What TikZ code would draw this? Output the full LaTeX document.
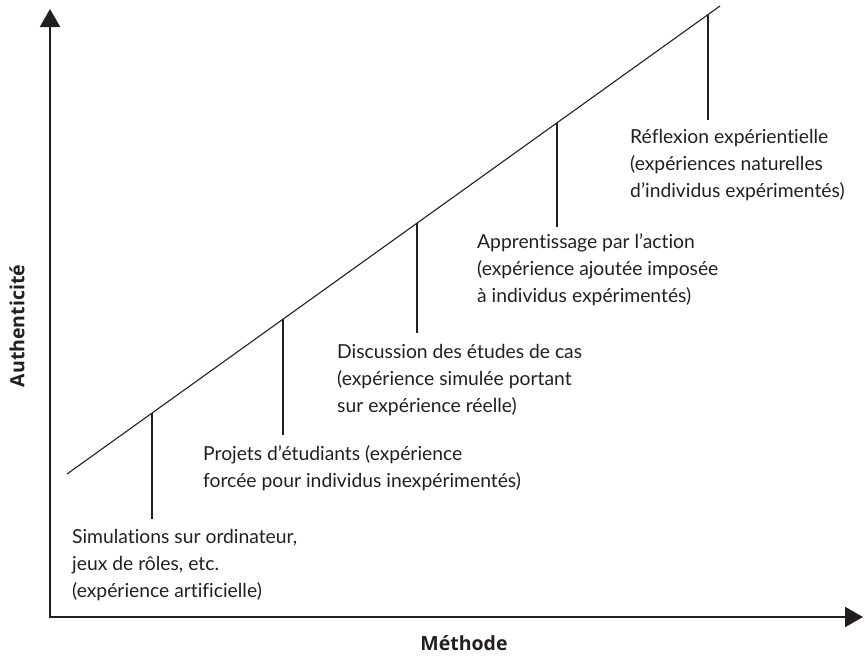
\documentclass[tikz,border=0pt]{standalone}
\usepackage{fontspec}
\setmainfont{Lato}[Ligatures={NoCommon}]
\newfontfamily\labfont{Open Sans}
\usetikzlibrary{arrows.meta,calc}
\definecolor{ink}{RGB}{35,31,32}
\begin{document}
\begin{tikzpicture}[x=1pt,y=-1pt,
  axisline/.style={line width=2pt, draw=ink, -{Triangle[width=20pt,length=18pt]}},
  thinline/.style={line width=1.1pt, draw=ink},
  lbl/.style={anchor=base west, align=left, inner sep=0pt, text=ink,
    font=\fontsize{19.3}{27}\selectfont},
  axlbl/.style={inner sep=0pt, text=ink, font=\labfont\bfseries\fontsize{19.5}{22}\selectfont}]
\useasboundingbox (0,0) rectangle (865,656);
% axes
\coordinate (O) at (50,617);
\coordinate (Y) at (50,9);
\coordinate (X) at (863,617);
\draw[axisline] ($(O)+(0,1)$) -- (Y);
\draw[axisline] ($(O)+(-1,0)$) -- (X);
% diagonal
\coordinate (L0) at (67,474);
\coordinate (L1) at (720,6);
\draw[thinline] (L0) -- (L1);
% points on the diagonal
\coordinate (p1) at ($(L0)!0.1302!(L1)$);
\coordinate (p2) at ($(L0)!0.3308!(L1)$);
\coordinate (p3) at ($(L0)!0.5360!(L1)$);
\coordinate (p4) at ($(L0)!0.7504!(L1)$);
\coordinate (p5) at ($(L0)!0.9816!(L1)$);
\coordinate (q1) at (152,519);
\coordinate (q2) at (283,435);
\coordinate (q3) at (417,333);
\coordinate (q4) at (557,227);
\coordinate (q5) at (708,120);
\draw[thinline] (p1) -- (p1 |- q1);
\draw[thinline] (p2) -- (p2 |- q2);
\draw[thinline] (p3) -- (p3 |- q3);
\draw[thinline] (p4) -- (p4 |- q4);
\draw[thinline] (p5) -- (p5 |- q5);
% labels (anchor = baseline of the last line)
\node[lbl] (t1) at (72,597) {Simulations sur ordinateur,\\jeux de rôles, etc.\\(expérience artificielle)};
\node[lbl] (t2) at (203,487) {Projets d’étudiants (expérience\\forcée pour individus inexpérimentés)};
\node[lbl] (t3) at (337,412) {Discussion des études de cas\\(expérience simulée portant\\sur expérience réelle)};
\node[lbl] (t4) at (477,302) {Apprentissage par l’action\\(expérience ajoutée imposée\\à individus expérimentés)};
\node[lbl] (t5) at (630,197) {Réflexion expérientielle\\(expériences naturelles\\d’individus expérimentés)};
% axis labels
\node[axlbl, anchor=base] (mx) at (464,650) {Méthode};
\node[axlbl, rotate=90] (my) at (17,326) {Authenticité};
\end{tikzpicture}
\end{document}
